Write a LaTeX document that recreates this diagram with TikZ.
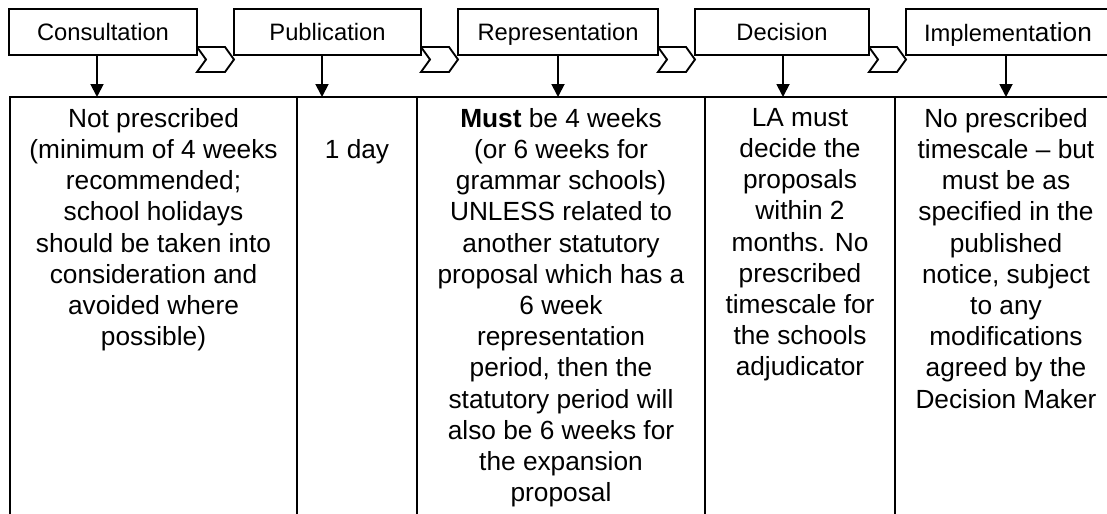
\documentclass[tikz,border=0pt]{standalone}
\usepackage{fontspec}
\setmainfont{Liberation Sans}
\usetikzlibrary{arrows.meta}
\def\chevron(#1){\draw[chev] (#1,47) -- ++(28,0) -- ++(9,12.5) -- ++(-9,12.5) -- ++(-28,0) -- ++(9,-12.5) -- cycle;}
\tikzset{
	rule/.style={line width=1.4pt},
	chev/.style={rule, fill=white},
	stage/.style={rule, draw, fill=white, minimum height=34.5pt, inner sep=0pt, text depth=0pt, font=\fontsize{17.8pt}{21pt}\selectfont},
	cell/.style={anchor=north, align=center, inner sep=0pt, font=\fontsize{19.7pt}{23.4pt}\selectfont},
	down/.style={rule, -{Triangle[width=9.75pt,length=9.75pt]}}
}
\begin{document}
\begin{tikzpicture}[x=0.75pt, y=-0.75pt]
	\useasboundingbox (0,0) rectangle (1107,514);
	\clip (0,0) rectangle (1107,514);
	\fill[white] (0,0) rectangle (1107,514);

	\chevron(197)
	\chevron(421)
	\chevron(658)
	\chevron(869)

	\node[stage, minimum width=141pt] (consult) at (103,32) {Consultation};
	\node[stage, minimum width=140.25pt] (publish) at (327.5,32) {Publication};
	\node[stage, minimum width=150pt] (represent) at (558,32) {Representation};
	\node[stage, minimum width=130.5pt] (decide) at (782,32) {Decision};
	\node[stage, minimum width=153pt] (implement) at (1008,32) {Implement{\fontsize{19.7pt}{21pt}\selectfont ation}};

	\draw[rule] (10,520) -- (10,97) -- (1115,97);
	\foreach \x in {297,417,705,895}
		\draw[rule] (\x,97) -- (\x,520);

	\coordinate (c1) at (97,97);
	\coordinate (c2) at (322,97);
	\coordinate (c3) at (558,97);
	\coordinate (c4) at (783,97);
	\coordinate (c5) at (1006,97);
	\draw[down] (consult.south -| c1) -- (c1);
	\draw[down] (publish.south -| c2) -- (c2);
	\draw[down] (represent.south -| c3) -- (c3);
	\draw[down] (decide.south -| c4) -- (c4);
	\draw[down] (implement.south -| c5) -- (c5);

	\node[cell] (txtcons) at (153.5,108) {Not prescribed\\(minimum of 4 weeks\\recommended;\\school holidays\\should be taken into\\consideration and\\avoided where\\possible)};
	\node[cell] (txtpub) at (357,139.2) {1 day};
	\node[cell] (txtrep) at (561,108) {\textbf{Must} be 4 weeks\\(or 6 weeks for\\grammar schools)\\UNLESS related to\\another statutory\\proposal which has a\\6 week\\representation\\period, then the\\statutory period will\\also be 6 weeks for\\the expansion\\proposal};
	\node[cell] (txtdec) at (800,108) {LA must\\decide the\\proposals\\within 2\\months. No\\prescribed\\timescale for\\the schools\\adjudicator};
	\node[cell] (txtimp) at (1006,108) {No prescribed\\timescale – but\\must be as\\specified in the\\published\\notice, subject\\to any\\modifications\\agreed by the\\Decision Maker};
\end{tikzpicture}
\end{document}
